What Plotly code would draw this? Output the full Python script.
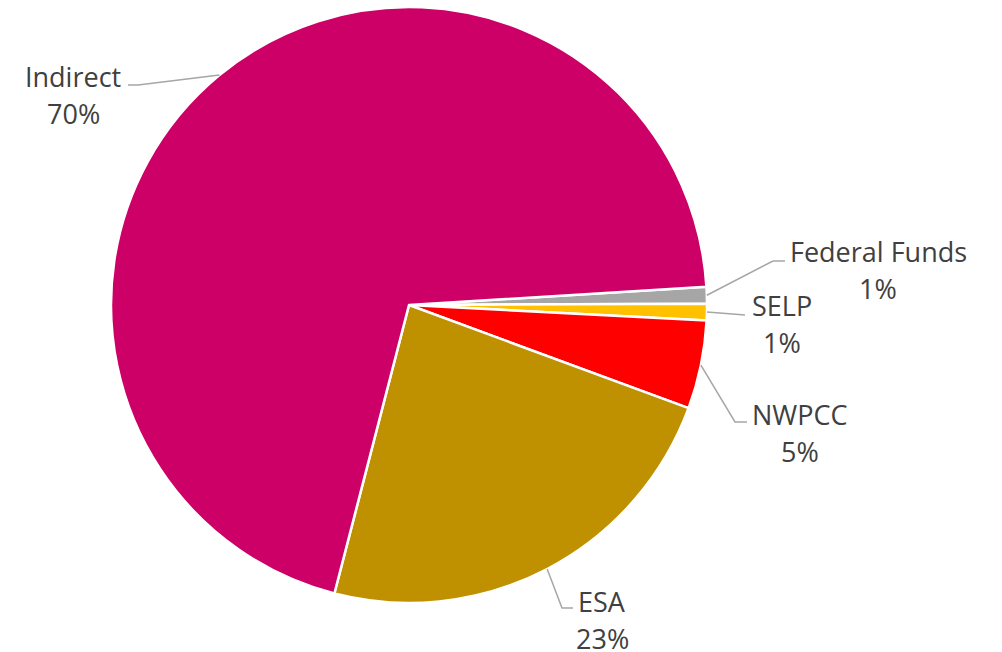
import math
import plotly.graph_objects as go

# ---- data ----
categories = ["Federal Funds", "SELP", "NWPCC", "ESA", "Indirect"]
values = [0.9, 0.9, 4.8, 23.4, 70.0]
colors = ["#A6A6A6", "#FFC000", "#FF0000", "#BF9000", "#CC0066"]

# ---- layout parameters ----
W, H = 1002, 652
CX, CY, R = 409, 305, 298          # pie centre / radius in pixels
ROTATION = 86.5                    # start angle of first slice (deg clockwise from 12 o'clock)
FONT = "Open Sans"
FONT_SIZE = 27
TEXT_COLOR = "#404040"
LINE_COLOR = "#A6A6A6"

# label placement (pixels): elbow point, line end point, label centre
label_layout = {
    "Indirect":      dict(elbow=(138, 85),  end=(128, 85),  text=(73, 76)),
    "Federal Funds": dict(elbow=(773, 261), end=(785, 261), text=(878, 251)),
    "SELP":          dict(elbow=(745, 315), end=(745, 315), text=(782, 305)),
    "NWPCC":         dict(elbow=(735, 422), end=(747, 422), text=(800, 414)),
    "ESA":           dict(elbow=(562, 608), end=(573, 608), text=(602, 601)),
}
LINE_GAP = 37


def px(x):
    return x / W


def py(y):
    return 1 - y / H


fig = go.Figure()
fig.add_trace(go.Pie(
    labels=categories,
    values=values,
    sort=False,
    direction="clockwise",
    rotation=ROTATION,
    marker=dict(colors=colors, line=dict(color="white", width=2.5)),
    textinfo="none",
    hoverinfo="label+percent",
    showlegend=False,
    domain=dict(x=[px(CX - R), px(CX + R)], y=[py(CY + R), py(CY - R)]),
))

total = sum(values)
angle = ROTATION
shapes = []
annotations = []
for cat, v in zip(categories, values):
    span = v / total * 360
    mid = math.radians(angle + span / 2)
    angle += span
    sx = CX + R * math.sin(mid)
    sy = CY - R * math.cos(mid)
    lay = label_layout[cat]
    ex, ey = lay["elbow"]
    fx, fy = lay["end"]
    path = f"M {px(sx)},{py(sy)} L {px(ex)},{py(ey)} L {px(fx)},{py(fy)}"
    shapes.append(dict(type="path", xref="paper", yref="paper", path=path,
                       line=dict(color=LINE_COLOR, width=1.5)))
    tx, ty = lay["text"]
    pct = f"{round(v / total * 100)}%"
    annotations.append(dict(x=px(tx), y=py(ty), xref="paper", yref="paper",
                            text=cat, showarrow=False, xanchor="center", yanchor="middle",
                            font=dict(family=FONT, size=FONT_SIZE, color=TEXT_COLOR)))
    annotations.append(dict(x=px(tx), y=py(ty + LINE_GAP), xref="paper", yref="paper",
                            text=pct, showarrow=False, xanchor="center", yanchor="middle",
                            font=dict(family=FONT, size=FONT_SIZE, color=TEXT_COLOR)))

fig.update_layout(
    width=W, height=H,
    margin=dict(l=0, r=0, t=0, b=0),
    paper_bgcolor="white", plot_bgcolor="white",
    shapes=shapes, annotations=annotations,
)

fig.write_html("out.html", config={"displayModeBar": False},
               post_script="document.body.style.margin='0';")
